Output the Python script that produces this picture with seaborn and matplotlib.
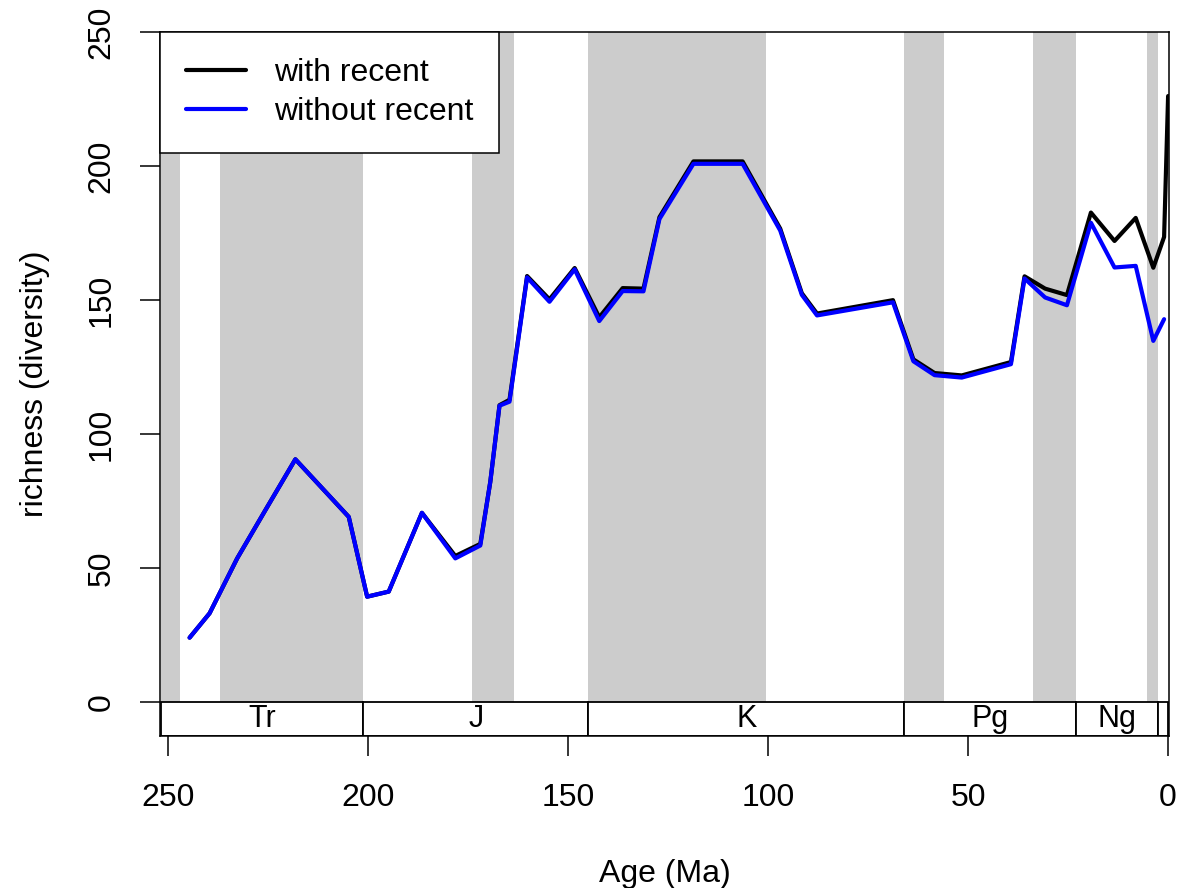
import numpy as np, pandas as pd
import matplotlib
matplotlib.use("Agg")
import matplotlib.pyplot as plt
import seaborn as sns
from matplotlib.patches import Rectangle

# ---------- data ----------
age = [244.7, 239.7, 232.8, 225.75, 218.25, 204.9, 200.3, 194.9, 186.6, 178.25,
       172.0, 169.5, 167.2, 164.7, 160.3, 154.7, 148.4, 142.25, 136.4, 131.2,
       127.2, 118.7, 106.4, 97.0, 91.6, 87.8, 68.8, 63.7, 58.4, 51.6,
       39.3, 35.9, 30.75, 25.3, 19.3, 13.4, 8.1, 3.7, 1.0, 0.0]
with_recent = [24.0, 33.1, 53.6, 71.6, 90.6, 69.1, 39.3, 41.2, 70.6, 54.5,
               59.0, 82.2, 110.8, 112.8, 159.0, 150.3, 162.0, 143.6, 154.5, 154.3,
               181.0, 201.8, 201.8, 176.7, 152.6, 145.0, 150.0, 127.9, 122.8, 121.9,
               126.9, 158.9, 154.3, 151.9, 182.7, 172.1, 180.7, 162.1, 173.6, 226.2]
without_recent = [24.0, 33.1, 53.6, 71.6, 90.6, 69.1, 39.3, 41.2, 70.6, 53.6,
                  58.4, 82.2, 110.6, 112.1, 158.5, 149.4, 161.5, 142.2, 153.4, 153.3,
                  180.3, 200.9, 200.9, 176.0, 152.0, 144.3, 149.2, 127.2, 122.0, 121.1,
                  126.1, 158.1, 151.0, 148.1, 178.9, 162.2, 162.8, 134.8, 142.9, np.nan]

# alternating epochs shaded (old, young)
shade_old = [251.9, 237.0, 174.1, 145.0, 66.0, 33.9, 5.333]
shade_young = [247.2, 201.3, 163.5, 100.5, 56.0, 23.03, 2.58]

period_bounds = [251.9, 201.3, 145.0, 66.0, 23.03, 2.58, 0.0]
period_names = ["Tr", "J", "K", "Pg", "Ng", ""]

sns.set_theme(style="ticks")
plt.rcParams["font.family"] = ["Liberation Sans", "DejaVu Sans"]
plt.rcParams.update({"text.color": "black", "axes.labelcolor": "black",
                     "xtick.color": "black", "ytick.color": "black"})
FS = 23

W, H = 1179, 888
fig = plt.figure(figsize=(W / 100, H / 100), dpi=100)
ax = fig.add_axes([160 / W, 1 - 735.7 / H, (1169.3 - 160) / W, (735.7 - 32.3) / H])
ax.set_xlim(252.1, -0.3)
ax.set_ylim(-12.6, 250)

# epoch shading
for a, b in zip(shade_old, shade_young):
    ax.fill_betweenx([0, 250], b, a, color="#cccccc", lw=0, zorder=0)

# period boxes
bar_lo = -12.6
for i, name in enumerate(period_names):
    a, b = period_bounds[i], period_bounds[i + 1]
    ax.add_patch(Rectangle((b, bar_lo), a - b, -bar_lo, facecolor="white",
                           edgecolor="black", lw=1.3, zorder=2))
    if name:
        ax.text((a + b) / 2, bar_lo / 2, name, ha="center", va="center",
                fontsize=22, zorder=3)

df = pd.DataFrame({"age": age, "with": with_recent, "without": without_recent})
sns.lineplot(data=df, x="age", y="with", color="black", lw=3.0, ax=ax,
             estimator=None, sort=False, label="with recent", zorder=4)
sns.lineplot(data=df.dropna(), x="age", y="without", color="blue", lw=3.0, ax=ax,
             estimator=None, sort=False, label="without recent", zorder=5)

ax.set_xticks([250, 200, 150, 100, 50, 0])
ax.set_yticks([0, 50, 100, 150, 200, 250])
ax.tick_params(axis="both", direction="out", length=14.4, width=1.1,
               color="black", labelsize=FS, labelcolor="black")
ax.tick_params(axis="x", pad=20)
ax.tick_params(axis="y", pad=17)
for t in ax.get_yticklabels():
    t.set_rotation(90)
    t.set_va("center")
for s in ax.spines.values():
    s.set_visible(True)
    s.set_color("black")
    s.set_linewidth(1.1)
    s.set_zorder(6)

ax.set_xlabel("Age (Ma)", fontsize=FS, labelpad=33)
ax.set_ylabel("richness (diversity)", fontsize=FS, labelpad=26)

leg = ax.legend(loc="upper left", bbox_to_anchor=(0, 1), borderaxespad=0,
                fontsize=FS, frameon=True, fancybox=False, framealpha=1,
                edgecolor="black", handlelength=1.9, handletextpad=0.88,
                borderpad=0.8, labelspacing=0.3)
leg.get_frame().set_linewidth(1.1)
leg.set_zorder(10)

fig.savefig("out.png", dpi=100)
